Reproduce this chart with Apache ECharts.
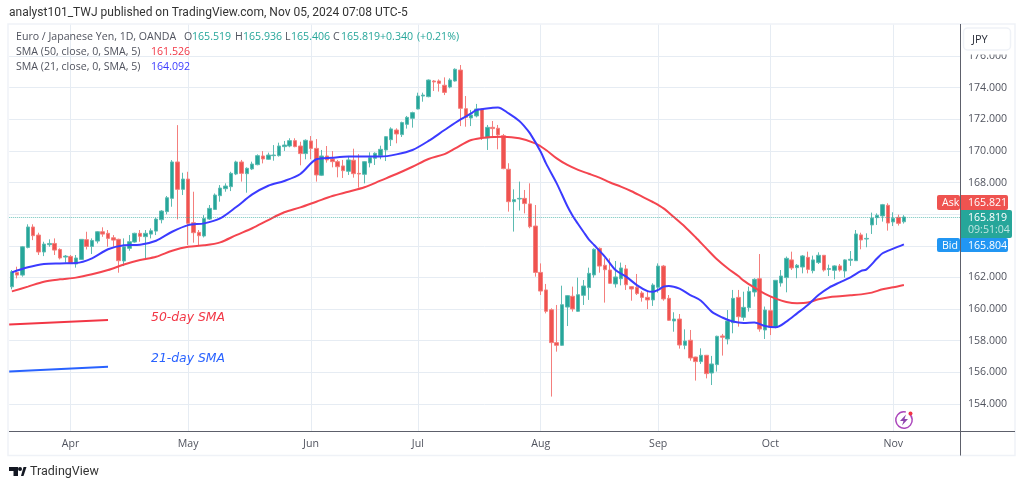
<!DOCTYPE html>
<html><head><meta charset="utf-8">
<style>html,body{margin:0;padding:0;background:#fff}#c{width:1024px;height:487px}</style>
<script src="https://cdn.jsdelivr.net/npm/echarts@6/dist/echarts.min.js"></script>
</head><body><div id="c"></div>
<script>
const opens=[161.41,162.32,162.15,163.90,165.19,164.68,163.61,164.07,164.15,163.77,
163.29,163.33,162.85,163.14,164.39,163.96,164.30,164.89,164.79,164.51,
164.41,163.04,163.84,164.24,164.79,164.58,164.74,164.93,165.65,166.16,
167.00,169.30,167.57,168.22,165.46,164.85,164.62,165.69,166.30,167.17,
167.61,167.74,168.54,169.30,168.56,168.86,169.13,169.68,169.47,169.70,
169.70,170.27,170.31,170.65,170.31,169.83,170.63,170.16,168.46,169.68,
169.49,169.32,169.05,168.71,169.41,168.58,168.52,169.24,169.53,169.70,
170.06,170.71,171.32,171.03,171.68,172.06,172.65,173.47,173.43,174.42,
174.42,174.15,174.04,174.42,175.11,172.67,172.08,172.21,172.65,170.82,
171.49,171.43,170.96,168.84,166.79,166.96,167.00,166.65,165.25,162.32,
161.21,159.96,157.88,157.71,160.13,160.81,159.86,160.87,161.36,162.16,
163.84,162.77,162.47,161.59,161.92,162.54,161.42,161.38,161.02,160.74,
160.58,161.38,162.72,160.68,159.25,159.37,157.71,158.03,156.97,156.68,
157.08,155.96,156.49,158.30,158.11,159.14,160.74,159.48,160.09,161.08,
161.92,158.68,159.90,158.85,161.65,161.99,163.11,162.62,162.66,163.27,
162.43,162.94,163.40,162.51,162.45,162.73,162.41,163.09,163.06,164.69,
164.43,165.32,165.78,165.89,166.56,165.51,165.80,165.519];
const closes=[162.36,162.15,163.94,165.19,164.64,163.61,164.11,164.15,163.73,163.23,
163.35,162.89,163.23,164.41,163.96,164.34,164.89,164.74,164.47,164.36,
163.06,163.94,164.26,164.79,164.60,164.79,164.95,165.69,166.20,167.04,
169.30,167.57,168.22,165.42,164.83,164.64,165.73,166.37,167.21,167.65,
167.78,168.58,169.30,168.58,168.90,169.17,169.70,169.49,169.74,169.74,
170.31,170.37,170.65,170.27,169.83,170.67,170.16,168.48,169.68,169.43,
169.32,169.00,168.75,169.43,168.56,168.54,169.32,169.57,169.85,170.10,
170.90,171.39,171.07,171.79,172.12,172.42,173.47,173.53,174.48,174.36,
174.27,173.70,174.48,175.16,172.69,172.12,172.27,172.65,170.86,171.49,
171.41,171.01,168.88,166.79,166.92,167.00,166.67,165.21,162.32,161.14,
159.86,157.88,157.71,160.28,160.85,160.01,160.91,161.46,162.26,163.78,
162.72,162.49,161.63,162.03,162.60,161.54,161.27,160.98,160.74,160.58,
161.52,162.72,160.64,159.29,159.37,157.73,157.98,156.91,156.68,157.08,
155.92,156.53,158.28,158.22,159.25,160.68,159.52,160.11,161.12,161.88,
158.74,159.94,158.85,161.82,162.09,163.21,162.60,162.77,163.36,162.51,
163.11,163.40,162.47,162.56,162.73,162.47,163.11,163.15,164.75,164.37,
164.47,165.76,165.93,166.60,165.44,165.74,165.42,165.819];
const lows=[161.25,161.94,162.05,163.84,164.36,163.42,163.35,163.94,163.42,163.14,
162.93,162.85,162.62,163.10,163.77,163.48,164.15,164.57,163.94,163.94,
162.30,162.72,163.69,164.20,164.26,163.10,164.47,164.68,165.42,165.99,
166.47,165.67,167.21,164.05,164.20,164.05,164.53,165.63,166.28,166.79,
167.42,167.46,168.47,168.06,167.36,168.79,169.09,169.21,169.43,169.38,
169.64,170.00,170.23,170.23,169.09,169.47,169.47,168.06,168.41,169.26,
168.96,168.33,168.29,168.48,168.31,167.68,167.95,168.96,169.11,169.47,
169.36,170.31,170.48,170.88,171.41,171.47,172.63,173.11,173.39,173.79,
173.75,173.53,173.96,174.38,171.57,171.53,171.57,172.12,170.69,170.06,
170.86,170.10,168.84,166.16,164.90,166.23,166.05,165.11,162.05,160.89,
159.73,154.47,157.31,157.67,158.93,159.84,159.82,160.26,160.58,161.99,
162.30,160.41,161.59,161.36,161.50,161.21,160.53,160.89,160.47,160.00,
160.20,161.04,160.53,159.25,158.57,157.50,157.46,156.74,155.48,156.53,
155.62,155.20,156.05,157.06,157.77,158.47,158.89,159.27,159.84,160.79,
158.57,158.11,158.36,158.79,161.42,161.06,162.47,161.95,162.26,162.26,
162.26,162.85,162.37,162.09,161.88,162.37,161.99,162.73,163.04,163.78,
163.91,164.75,165.32,165.53,164.96,165.25,165.28,165.406];
const highs=[162.47,162.68,163.99,165.36,165.36,164.83,164.26,164.41,164.47,163.84,
163.42,163.42,163.42,164.43,164.89,164.47,164.93,165.17,165.00,164.68,
164.45,164.47,164.68,164.83,165.00,165.00,165.10,165.78,166.26,167.15,
169.42,171.63,168.62,168.68,167.42,165.00,165.94,166.58,167.31,167.84,
167.95,168.68,169.38,169.43,168.96,169.32,169.78,169.99,169.89,170.37,
170.52,170.63,170.80,170.80,170.58,170.73,170.94,170.75,170.06,170.31,
169.99,169.43,169.43,169.64,170.14,169.80,169.36,169.91,169.91,170.33,
170.94,171.49,171.43,171.85,172.21,172.48,173.68,173.68,174.52,174.48,
174.52,174.65,174.59,175.22,175.43,173.47,172.59,172.97,172.69,171.64,
171.89,171.64,171.07,169.22,167.57,168.06,167.53,167.95,166.58,162.89,
161.59,160.05,160.26,161.48,160.89,161.42,161.99,161.84,162.62,163.84,
163.90,163.21,163.21,163.04,162.94,162.79,161.46,162.22,161.14,161.10,
161.63,162.89,162.79,160.89,159.80,159.69,158.72,158.68,156.99,157.52,
157.10,157.04,158.32,158.43,159.94,161.21,161.21,161.10,161.42,161.95,
163.48,160.16,160.79,161.84,162.47,163.32,163.63,162.85,163.42,163.63,
163.38,163.59,163.42,162.81,162.77,162.85,163.15,163.67,165.00,164.83,
164.79,166.10,166.05,166.65,166.69,166.12,165.97,165.936];

const sma21Bars=[0,3,6,9,12,15,18,21,24,27,30,33,36,39,42,45,48,51,54,57,60,63,66,69,72,75,78,81,84,86,87,90,91,93,95,96,97,99,100,102,104,105,106,107,108,109,111,113,115,117,119,120,121,122,123,125,127,129,131,133,135,137,139,141,143,145,147,149,151,153,155,157,159,160,162,163,165,167];
const sma21Values=[162.32,162.64,162.85,162.89,162.91,163.21,163.78,164.03,164.07,164.32,164.89,165.31,165.42,165.73,166.45,167.25,167.80,168.10,168.54,169.47,169.57,169.64,169.64,169.64,169.78,170.06,170.63,171.32,171.99,172.37,172.59,172.73,172.75,172.37,171.89,171.53,171.11,169.95,169.21,167.95,166.50,165.89,165.38,164.89,164.41,164.05,163.32,162.47,162.05,161.52,161.14,161.10,161.21,161.42,161.46,161.29,160.89,160.53,159.84,159.47,159.21,159.12,159.16,158.93,158.85,159.21,159.73,160.26,160.89,161.36,161.69,162.01,162.41,162.51,163.21,163.53,163.82,164.092];
const sma50Bars=[0,3,6,9,12,15,18,21,24,27,30,33,36,39,42,45,48,51,54,57,60,63,66,69,72,75,78,81,83,86,89,92,95,98,100,102,104,106,108,110,112,114,116,118,120,122,124,126,128,130,132,134,136,137,139,141,143,145,147,149,151,153,155,157,159,161,163,165,167];
const sma50Values=[161.12,161.42,161.73,161.88,161.99,162.20,162.47,162.82,163.10,163.31,163.69,163.94,164.03,164.22,164.68,165.11,165.63,166.12,166.43,166.79,167.15,167.42,167.70,168.12,168.54,169.00,169.49,169.80,170.16,170.69,170.86,170.90,170.80,170.48,170.06,169.53,169.11,168.80,168.56,168.31,168.00,167.74,167.45,167.11,166.77,166.37,165.80,165.21,164.54,163.84,163.15,162.58,162.09,161.80,161.36,160.96,160.66,160.45,160.37,160.41,160.62,160.75,160.81,160.87,160.93,161.04,161.25,161.38,161.526];

const annot50=[[0,159.03],[18.5,159.31]];
const annot21=[[0,156.05],[18.5,156.36]];
const lastPrice=165.819;
const priceTicks={min:152,max:178,step:2};
const monthTicks=['2024-04-01','2024-05-01','2024-06-03','2024-07-01','2024-08-01','2024-09-02','2024-10-01','2024-11-01'];
const monthLabels=['Apr','May','Jun','Jul','Aug','Sep','Oct','Nov'];

// weekday calendar from the first visible bar, with empty bars to the right
const categories=[];
for(let d=new Date(Date.UTC(2024,2,15));categories.length<178;d=new Date(d.getTime()+864e5)){
  const w=d.getUTCDay(); if(w===0||w===6) continue;
  categories.push(d.toISOString().slice(0,10));
}
const candles=opens.map((o,i)=>[o,closes[i],lows[i],highs[i]]);
const zip=(a,b)=>a.map((x,i)=>[x,b[i]]);
const isMonth=(idx,val)=>monthTicks.includes(val);

const UI='"Open Sans","DejaVu Sans",sans-serif', GREY='#50535e', UP='#26a69a', DOWN='#ef5350';
const LEG='10.6px '+UI;
const t=(text,x,y,o={})=>({type:'text',z:50,style:Object.assign({text,x,y,fill:GREY,font:LEG,textVerticalAlign:'middle'},o)});
const r=(x,y,w,h,fill,rad,extra={})=>({type:'rect',z:40,shape:{x,y,width:w,height:h,r:rad||0},style:Object.assign({fill},extra)});
const l=(x1,y1,x2,y2,stroke,w)=>({type:'line',z:45,shape:{x1,y1,x2,y2},style:{stroke,lineWidth:w||1}});

const graphic=[
  r(10,432,949,4.5,'#fff'),
  // outer frame
  r(8,24,1007,431.5,'none',0,{stroke:'#eff2f7',lineWidth:1.5}),
  r(961,25,53,29.5,'#fff'),
  r(963.5,28,47,22,'#fff',4,{stroke:'#eff2f7',lineWidth:1.5}),
  t('JPY',972,39.5,{fill:'#2a2e39',font:'11px '+UI}),
  l(960.5,24,960.5,455.5,'#5d606b'),
  l(9,431.5,1015,431.5,'#5d606b'),
  // header and legend
  t('analyst101_TWJ published on TradingView.com, Nov 05, 2024 07:08 UTC-5',9,13,{fill:'#333',font:'12px Roboto'}),
  t('Euro / Japanese Yen, 1D, OANDA',16,37,{}),
  t('O',184,37),t('165.519',192,37,{fill:UP}),
  t('H',235,37),t('165.936',243,37,{fill:UP}),
  t('L',285,37),t('165.406',291,37,{fill:UP}),
  t('C',333,37),t('165.819',341,37,{fill:UP}),
  t('+0.340',380,37,{fill:UP}),t('(+0.21%)',417,37,{fill:UP}),
  t('SMA (50, close, 0, SMA, 5)',16,52),t('161.526',151,52,{fill:'#f23645'}),
  t('SMA (21, close, 0, SMA, 5)',16,67),t('164.092',151,67,{fill:'#3b3bff'}),
  // annotations
  t('50-day SMA',151,317.5,{fill:'#f23645',font:'italic 12.4px "DejaVu Sans"'}),
  t('21-day SMA',151,359,{fill:'#2962ff',font:'italic 12.4px "DejaVu Sans"'}),
  // price tags
  r(937,195,23,15,DOWN,2),t('Ask',942,203,{fill:'#fff'}),
  r(961,195,47,15,DOWN,[0,2,2,0]),t('165.821',968,203,{fill:'#fff'}),
  r(961,210,51,28,UP,[0,2,2,0]),t('165.819',968,218,{fill:'#fff'}),t('09:51:04',968,230,{fill:'#bfe5e1'}),
  r(937,238,23,14,'#2196f3',2),t('Bid',942,245.5,{fill:'#fff'}),
  r(961,238,47,14,'#2196f3',[0,2,2,0]),t('165.804',968,245.5,{fill:'#fff'}),
  // lightning badge
  {type:'arc',z:45,shape:{cx:904,cy:420,r:8.2,startAngle:-0.9,endAngle:-1.35,clockwise:true},style:{stroke:'#ab47bc',lineWidth:1.5,fill:'none'}},
  {type:'polygon',z:45,shape:{points:[[906,414.5],[900,421],[903.5,421],[902,425.5],[908,419],[904.5,419]]},style:{fill:'#8e44ad'}},
  {type:'circle',z:46,shape:{cx:910.5,cy:413.5,r:2},style:{fill:'#f23645'}},
  // TradingView mark
  {type:'polygon',z:45,shape:{points:[[9,467],[18,467],[18,476],[13.5,476],[13.5,471],[9,471]]},style:{fill:'#131722'}},
  {type:'circle',z:45,shape:{cx:20,cy:469,r:2},style:{fill:'#131722'}},
  {type:'polygon',z:45,shape:{points:[[21,476],[23.5,467],[26.5,467],[23.5,476]]},style:{fill:'#131722'}},
  t('TradingView',30,471.5,{fill:'#333',font:'12.5px Roboto'})
];

const chart=echarts.init(document.getElementById('c'),null,{renderer:'canvas'});
chart.setOption({
  animation:false,backgroundColor:'#fff',
  grid:{left:9.2,right:64,top:24.36,height:411.28,containLabel:false},
  xAxis:[
   {type:'category',data:categories,boundaryGap:true,offset:-4.64,
    axisLine:{show:false},axisTick:{show:false},
    axisLabel:{interval:isMonth,formatter:v=>monthLabels[monthTicks.indexOf(v)]||'',color:GREY,fontFamily:'"Open Sans"',fontSize:10.6,margin:7,hideOverlap:false},
    splitLine:{show:true,showMinLine:true,showMaxLine:true,interval:isMonth,alignWithLabel:true,lineStyle:{color:'#e6ecf3',width:1}}},
   {type:'value',min:0,max:178,show:false}
  ],
  yAxis:{type:'value',position:'right',min:priceTicks.min,max:priceTicks.max,interval:priceTicks.step,scale:true,
    axisLine:{show:false},axisTick:{show:false},
    axisLabel:{color:GREY,fontFamily:'"Open Sans"',fontSize:10.6,margin:8,formatter:v=>v.toFixed(3),showMinLabel:false,showMaxLabel:false},
    splitLine:{show:true,showMinLine:false,showMaxLine:false,lineStyle:{color:'#e6ecf3',width:1}}},
  series:[
   {type:'candlestick',data:candles,barWidth:4,z:3,
    itemStyle:{color:UP,color0:DOWN,borderColor:'#5cbbb2',borderColor0:'#f47f7d',borderWidth:1},
    markLine:{silent:true,symbol:'none',label:{show:false},lineStyle:{color:UP,type:'dotted',width:1,opacity:.65},data:[{yAxis:lastPrice}]}},
   {type:'line',data:zip(sma50Bars,sma50Values),smooth:.3,showSymbol:false,z:4,lineStyle:{color:'#f4454f',width:2}},
   {type:'line',data:zip(sma21Bars,sma21Values),smooth:.3,showSymbol:false,z:5,lineStyle:{color:'#3b3bff',width:2}},
   {type:'line',xAxisIndex:1,data:annot50,showSymbol:false,z:4,lineStyle:{color:'#f23645',width:2}},
   {type:'line',xAxisIndex:1,data:annot21,showSymbol:false,z:4,lineStyle:{color:'#2962ff',width:2}}
  ],
  graphic
});
</script></body></html>
